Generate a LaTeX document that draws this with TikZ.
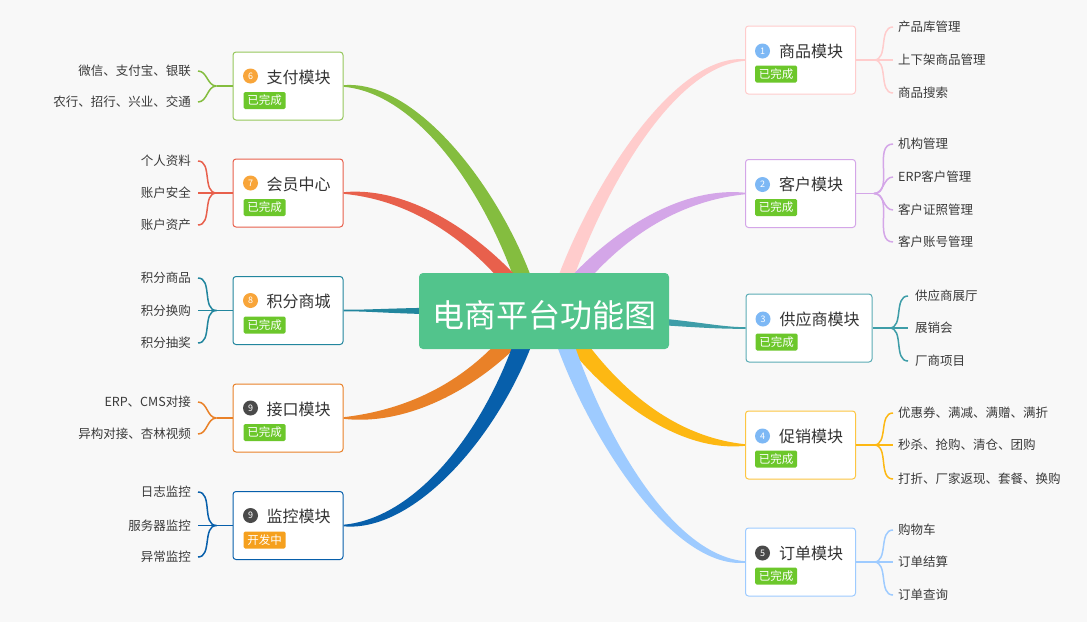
\documentclass[tikz,border=0pt]{standalone}
\usepackage{fontspec}
\setmainfont{Noto Sans CJK SC}
\usetikzlibrary{calc}
\pgfdeclarelayer{bg}
\pgfsetlayers{bg,main}
\definecolor{bgc}{HTML}{F8F8F8}
\definecolor{cC}{HTML}{52C48C}
\definecolor{cZF}{HTML}{84BD3F}
\definecolor{cHY}{HTML}{E8604C}
\definecolor{cJF}{HTML}{22869E}
\definecolor{cJK}{HTML}{E98128}
\definecolor{cJC}{HTML}{075FAB}
\definecolor{cSP}{HTML}{FFCCCC}
\definecolor{cKH}{HTML}{D4A6E8}
\definecolor{cGY}{HTML}{3E9DA8}
\definecolor{cCX}{HTML}{FDB813}
\definecolor{cDD}{HTML}{9ECBFF}
\definecolor{bGreen}{HTML}{6CC72B}
\definecolor{bOrange}{HTML}{F5A01E}
\definecolor{nOr}{HTML}{F8A53A}
\definecolor{nBl}{HTML}{7DB8F5}
\definecolor{nDk}{HTML}{4A4A4A}
\definecolor{tcol}{HTML}{333333}
\definecolor{lcol}{HTML}{3A3A3A}
% tapered branch: color, start offset from c, c1, c2, end anchor, half width, sign
\newcommand\tbranch[7]{%
\fill[#1] ($(c)+(#2)+(-#6,0)$) .. controls ($(#3)+(-#6,0)$) and ($(#4)+(0,{0.8*#6*(#7)})$) .. ($(#5)+(0,{0.8*(#7)})$)
 -- ($(#5)+(0,{-0.8*(#7)})$) .. controls ($(#4)+(0,{-0.8*#6*(#7)})$) and ($(#3)+(#6,0)$) .. ($(c)+(#2)+(#6,0)$) -- cycle;}
\begin{document}
\begin{tikzpicture}[x=1pt,y=-1pt,
  mod/.style={rectangle,rounded corners=3pt,fill=white,line width=1pt,minimum width=110pt,minimum height=68pt,inner sep=0pt},
  num/.style={circle,inner sep=0pt,minimum size=15pt,text=white,font=\fontsize{9}{9}\selectfont},
  ttl/.style={anchor=west,inner sep=0pt,text=tcol,font=\fontsize{16}{16}\selectfont,text height=13.2pt,text depth=1pt},
  badge/.style={anchor=west,inner sep=0pt,minimum width=42pt,minimum height=17pt,rounded corners=1.5pt,text=white,font=\fontsize{11.5}{11.5}\selectfont,text height=9.8pt,text depth=1pt},
  done/.style={badge,fill=bGreen},
  dev/.style={badge,fill=bOrange},
  leafL/.style={anchor=east,inner xsep=7pt,inner ysep=0pt,text=lcol,font=\fontsize{12.5}{12.5}\selectfont,text height=10.5pt,text depth=1pt},
  leafR/.style={anchor=west,inner xsep=5pt,inner ysep=0pt,text=lcol,font=\fontsize{12.5}{12.5}\selectfont,text height=10.5pt,text depth=1pt},
  lk/.style={line width=1.5pt}]
\useasboundingbox (0,0) rectangle (1087,622);
\begin{pgfonlayer}{bg}
\fill[bgc] (0,0) rectangle (1087,622);
\end{pgfonlayer}

% center
\node[fill=cC,rounded corners=4pt,minimum width=250pt,minimum height=76pt,inner sep=0pt,text=white,
  font=\fontsize{32}{32}\selectfont,text height=33.4pt,text depth=1pt] (c) at (544,311) {电商平台功能图};

% ---------- left modules ----------
\node[mod,draw=cZF!85] (m6) at (288,86) {};
\node[num,fill=nOr] (n6) at ($(m6.west)+(18,-10)$) {6};
\node[ttl] (t6) at ($(m6.west)+(34,-9)$) {支付模块};
\node[done] (b6) at ($(m6.west)+(11,14.5)$) {已完成};

\node[mod,draw=cHY] (m7) at (288,193) {};
\node[num,fill=nOr] (n7) at ($(m7.west)+(18,-10)$) {7};
\node[ttl] (t7) at ($(m7.west)+(34,-9)$) {会员中心};
\node[done] (b7) at ($(m7.west)+(11,14.5)$) {已完成};

\node[mod,draw=cJF] (m8) at (288,310.5) {};
\node[num,fill=nOr] (n8) at ($(m8.west)+(18,-10)$) {8};
\node[ttl] (t8) at ($(m8.west)+(34,-9)$) {积分商城};
\node[done] (b8) at ($(m8.west)+(11,14.5)$) {已完成};

\node[mod,draw=cJK] (m9) at (288,418) {};
\node[num,fill=nDk] (n9) at ($(m9.west)+(18,-10)$) {9};
\node[ttl] (t9) at ($(m9.west)+(34,-9)$) {接口模块};
\node[done] (b9) at ($(m9.west)+(11,14.5)$) {已完成};

\node[mod,draw=cJC] (m10) at (288,525.5) {};
\node[num,fill=nDk] (n10) at ($(m10.west)+(18,-10)$) {9};
\node[ttl] (t10) at ($(m10.west)+(34,-9)$) {监控模块};
\node[dev] (b10) at ($(m10.west)+(11,14.5)$) {开发中};

% ---------- right modules ----------
\node[mod,draw=cSP] (m1) at (800.5,60) {};
\node[num,fill=nBl] (n1) at ($(m1.west)+(17.5,-9)$) {1};
\node[ttl] (t1) at ($(m1.west)+(34,-9)$) {商品模块};
\node[done] (b1) at ($(m1.west)+(10,14)$) {已完成};

\node[mod,draw=cKH] (m2) at (800.5,193.5) {};
\node[num,fill=nBl] (n2) at ($(m2.west)+(17.5,-9)$) {2};
\node[ttl] (t2) at ($(m2.west)+(34,-9)$) {客户模块};
\node[done] (b2) at ($(m2.west)+(10,14)$) {已完成};

\node[mod,draw=cGY!85,minimum width=126pt] (m3) at (809,328) {};
\node[num,fill=nBl] (n3) at ($(m3.west)+(17.5,-9)$) {3};
\node[ttl] (t3) at ($(m3.west)+(34,-9)$) {供应商模块};
\node[done] (b3) at ($(m3.west)+(10,14)$) {已完成};

\node[mod,draw=cCX!80] (m4) at (800.5,445) {};
\node[num,fill=nBl] (n4) at ($(m4.west)+(17.5,-9)$) {4};
\node[ttl] (t4) at ($(m4.west)+(34,-9)$) {促销模块};
\node[done] (b4) at ($(m4.west)+(10,14)$) {已完成};

\node[mod,draw=cDD] (m5) at (800.5,562) {};
\node[num,fill=nDk] (n5) at ($(m5.west)+(17.5,-9)$) {5};
\node[ttl] (t5) at ($(m5.west)+(34,-9)$) {订单模块};
\node[done] (b5) at ($(m5.west)+(10,14)$) {已完成};

% ---------- main branches ----------
\begin{pgfonlayer}{bg}
\tbranch{cZF}{-14,-11}{500,200}{420,86}{m6.east}{9}{1}
\tbranch{cHY}{-14,-6}{490,250}{420,193}{m7.east}{10}{1}
\tbranch{cJK}{-14,6}{490,372}{420,418}{m9.east}{12}{-1}
\tbranch{cJC}{-14,11}{500,422}{420,525.5}{m10.east}{9.5}{-1}
\tbranch{cSP}{14,-11}{590,200}{670,60}{m1.west}{8}{-1}
\tbranch{cKH}{14,-6}{598,250}{668,193.5}{m2.west}{10.5}{-1}
\tbranch{cCX}{14,6}{598,380}{668,445}{m4.west}{11}{1}
\tbranch{cDD}{14,11}{588,422}{668,562}{m5.west}{9}{1}
\fill[cJF] ($(c)+(-80,-3.5)$) .. controls (400,307.5) and (370,310) .. ($(m8.east)+(0,-0.8)$)
  -- ($(m8.east)+(0,0.8)$) .. controls (370,311) and (400,314.5) .. ($(c)+(-80,3.5)$) -- cycle;
\fill[cGY] ($(c)+(70,4)$) .. controls (690,319) and (715,327) .. ($(m3.west)+(0,-0.8)$)
  -- ($(m3.west)+(0,0.8)$) .. controls (715,329) and (690,327) .. ($(c)+(70,11)$) -- cycle;
\end{pgfonlayer}

% ---------- left leaves ----------
\coordinate (k6) at ($(m6.west)+(-16,0)$);
\draw[lk,cZF] (m6.west) -- (k6);
\node[leafL] (l61) at (198,71) {微信、支付宝、银联};
\node[leafL] (l62) at (198,102) {农行、招行、兴业、交通};
\foreach \l in {l61,l62} \draw[lk,cZF] (k6) to[out=180,in=0] (\l.east);

\coordinate (k7) at ($(m7.west)+(-16,0)$);
\draw[lk,cHY] (m7.west) -- (k7);
\node[leafL] (l71) at (198,161) {个人资料};
\node[leafL] (l72) at (198,193) {账户安全};
\node[leafL] (l73) at (198,225) {账户资产};
\foreach \l in {l71,l72,l73} \draw[lk,cHY] (k7) to[out=180,in=0] (\l.east);

\coordinate (k8) at ($(m8.west)+(-16,0)$);
\draw[lk,cJF] (m8.west) -- (k8);
\node[leafL] (l81) at (198,278) {积分商品};
\node[leafL] (l82) at (198,310.5) {积分换购};
\node[leafL] (l83) at (198,343) {积分抽奖};
\foreach \l in {l81,l82,l83} \draw[lk,cJF] (k8) to[out=180,in=0] (\l.east);

\coordinate (k9) at ($(m9.west)+(-16,0)$);
\draw[lk,cJK] (m9.west) -- (k9);
\node[leafL] (l91) at (198,402) {ERP、CMS对接};
\node[leafL] (l92) at (198,434) {异构对接、杏林视频};
\foreach \l in {l91,l92} \draw[lk,cJK] (k9) to[out=180,in=0] (\l.east);

\coordinate (k10) at ($(m10.west)+(-16,0)$);
\draw[lk,cJC] (m10.west) -- (k10);
\node[leafL] (l101) at (198,492) {日志监控};
\node[leafL] (l102) at (198,525.5) {服务器监控};
\node[leafL] (l103) at (198,557) {异常监控};
\foreach \l in {l101,l102,l103} \draw[lk,cJC] (k10) to[out=180,in=0] (\l.east);

% ---------- right leaves ----------
\coordinate (k1) at ($(m1.east)+(18,0)$);
\draw[lk,cSP] (m1.east) -- (k1);
\node[leafR] (l11) at (893,27) {产品库管理};
\node[leafR] (l12) at (893,60) {上下架商品管理};
\node[leafR] (l13) at (893,93) {商品搜索};
\foreach \l in {l11,l12,l13} \draw[lk,cSP] (k1) to[out=0,in=180] (\l.west);

\coordinate (k2) at ($(m2.east)+(18,0)$);
\draw[lk,cKH] (m2.east) -- (k2);
\node[leafR] (l21) at (893,144) {机构管理};
\node[leafR] (l22) at (893,177) {ERP客户管理};
\node[leafR] (l23) at (893,210) {客户证照管理};
\node[leafR] (l24) at (893,242) {客户账号管理};
\foreach \l in {l21,l22,l23,l24} \draw[lk,cKH] (k2) to[out=0,in=180] (\l.west);

\coordinate (k3) at ($(m3.east)+(17,0)$);
\draw[lk,cGY] (m3.east) -- (k3);
\node[leafR,inner xsep=7pt] (l31) at (908,296) {供应商展厅};
\node[leafR,inner xsep=7pt] (l32) at (908,328) {展销会};
\node[leafR,inner xsep=7pt] (l33) at (908,361) {厂商项目};
\foreach \l in {l31,l32,l33} \draw[lk,cGY] (k3) to[out=0,in=180] (\l.west);

\coordinate (k4) at ($(m4.east)+(18,0)$);
\draw[lk,cCX] (m4.east) -- (k4);
\node[leafR] (l41) at (893,413) {优惠券、满减、满赠、满折};
\node[leafR] (l42) at (893,445) {秒杀、抢购、清仓、团购};
\node[leafR] (l43) at (893,479) {打折、厂家返现、套餐、换购};
\foreach \l in {l41,l42,l43} \draw[lk,cCX] (k4) to[out=0,in=180] (\l.west);

\coordinate (k5) at ($(m5.east)+(18,0)$);
\draw[lk,cDD] (m5.east) -- (k5);
\node[leafR] (l51) at (893,530) {购物车};
\node[leafR] (l52) at (893,562) {订单结算};
\node[leafR] (l53) at (893,595) {订单查询};
\foreach \l in {l51,l52,l53} \draw[lk,cDD] (k5) to[out=0,in=180] (\l.west);
\end{tikzpicture}
\end{document}
